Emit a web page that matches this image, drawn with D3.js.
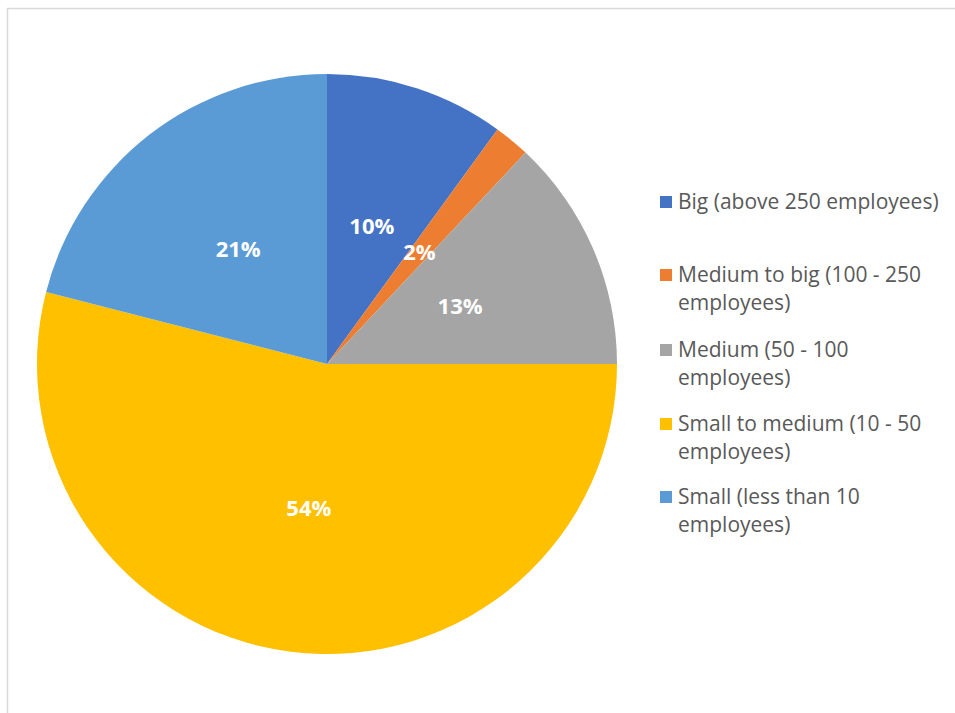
<!DOCTYPE html>
<html>
<head>
<meta charset="utf-8">
<script src="https://cdn.jsdelivr.net/npm/d3@7"></script>
<style>
  html, body { margin: 0; padding: 0; background: #fff; }
  svg { display: block; }
</style>
</head>
<body>
<svg id="chart" width="955" height="713"></svg>
<script>
// Company size distribution
const categories = [
  "Big (above 250 employees)",
  "Medium to big (100 - 250 employees)",
  "Medium (50 - 100 employees)",
  "Small to medium (10 - 50 employees)",
  "Small (less than 10 employees)"
];
const legendLines = [
  ["Big (above 250 employees)"],
  ["Medium to big (100 - 250", "employees)"],
  ["Medium (50 - 100", "employees)"],
  ["Small to medium (10 - 50", "employees)"],
  ["Small (less than 10", "employees)"]
];
const shares = [10, 2, 13, 54, 21];
const colors = ["#4472C4", "#ED7D31", "#A5A5A5", "#FFC000", "#5B9BD5"];

const svg = d3.select("#chart");
const fontFamily = "'Open Sans', sans-serif";

// outer frame
svg.append("rect")
  .attr("x", 7.5).attr("y", 8.5)
  .attr("width", 1000).attr("height", 1000)
  .attr("fill", "#fff")
  .attr("stroke", "#d9d9d9")
  .attr("stroke-width", 1.5);

const cx = 327, cy = 364, R = 290;
const color = d3.scaleOrdinal().domain(categories).range(colors);

const pie = d3.pie().sort(null).value(d => d.value);
const data = categories.map((c, i) => ({ name: c, value: shares[i] }));
const arcs = pie(data);
const arc = d3.arc().innerRadius(0).outerRadius(R);
const labelArc = d3.arc().innerRadius(R * 0.5).outerRadius(R * 0.5);

const g = svg.append("g").attr("transform", `translate(${cx},${cy})`);
g.selectAll("path.slice")
  .data(arcs)
  .join("path")
  .attr("class", "slice")
  .attr("d", arc)
  .attr("fill", d => color(d.data.name));

g.selectAll("text.pct")
  .data(arcs)
  .join("text")
  .attr("class", "pct")
  .attr("transform", d => `translate(${labelArc.centroid(d)})`)
  .attr("text-anchor", "middle")
  .attr("dy", "0.35em")
  .attr("fill", "#fff")
  .attr("font-family", fontFamily)
  .attr("font-weight", "bold")
  .attr("font-size", 22)
  .text(d => d.data.value + "%");

// legend
const legendY = [202, 275, 350, 424, 497];
const lg = svg.append("g");
legendLines.forEach((lines, i) => {
  const row = lg.append("g").attr("transform", `translate(660,${legendY[i]})`);
  row.append("rect")
    .attr("x", 0).attr("y", -6)
    .attr("width", 12).attr("height", 12)
    .attr("fill", colors[i]);
  lines.forEach((t, j) => {
    row.append("text")
      .attr("x", 18)
      .attr("y", j * 28)
      .attr("dy", "0.35em")
      .attr("fill", "#595959")
      .attr("font-family", fontFamily)
      .attr("font-size", 21)
      .text(t);
  });
});
</script>
</body>
</html>
